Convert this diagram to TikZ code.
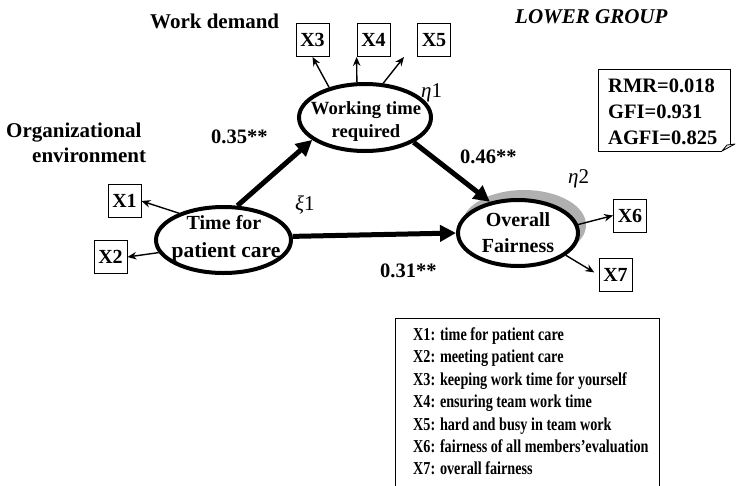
\documentclass[tikz,border=0pt]{standalone}
\usepackage{fontspec}
\setmainfont{Liberation Serif}
\newfontfamily\legendfont{Liberation Serif}[FakeStretch=0.78]
\usetikzlibrary{shapes.geometric,arrows.meta,calc}

\begin{document}
\begin{tikzpicture}[x=1pt,y=-1pt,
  txt/.style={inner sep=0pt, anchor=base west, font=\fontsize{21}{25}\selectfont\bfseries},
  coef/.style={inner sep=0pt, anchor=base west, font=\fontsize{20.5}{24}\selectfont\bfseries},
  intxt/.style={inner sep=0pt, anchor=base, font=\fontsize{20}{24}\selectfont\bfseries},
  greek/.style={inner sep=0pt, anchor=base west, font=\fontsize{21}{24}\selectfont},
  latent/.style={ellipse, draw, line width=4pt, fill=white, inner sep=0pt},
  obs/.style={rectangle, draw, line width=0.8pt, fill=white, minimum width=33pt,
    minimum height=33pt, inner sep=0pt, font=\fontsize{20}{24}\selectfont\bfseries},
  load/.style={line width=1.4pt, -{Stealth[length=9pt,width=7.5pt]}},
  causal/.style={line width=5pt, -{Triangle[length=16pt,width=16pt]}},
  legtxt/.style={inner sep=0pt, anchor=base west, font=\legendfont\fontsize{18.2}{21}\selectfont\bfseries},
]
\useasboundingbox (0,0) rectangle (736,485);

% headings
\node[txt] (hwork) at (150,28) {Work demand};
\node[txt, font=\fontsize{21}{25}\selectfont\bfseries\itshape] (hgroup) at (515,23) {LOWER GROUP};
\node[txt] (horg1) at (6,137) {Organizational};
\node[txt] (horg2) at (32,162) {environment};

% latent variables
\node[ellipse, fill=gray!62, minimum width=124pt, minimum height=70pt, inner sep=0pt] (shade) at (524,225) {};
\node[latent, minimum width=132pt, minimum height=67pt] (work) at (365,117.5) {};
\node[latent, minimum width=135pt, minimum height=66pt] (time) at (223.5,240) {};
\node[latent, minimum width=120pt, minimum height=66pt] (fair) at (518,233) {};

\node[intxt, font=\fontsize{18.6}{22}\selectfont\bfseries] (workA) at (366,114) {Working time};
\node[intxt, font=\fontsize{18.6}{22}\selectfont\bfseries] (workB) at (366,137) {required};
\node[intxt] (timeA) at (224,229) {Time for};
\node[intxt, font=\fontsize{21.5}{25}\selectfont\bfseries] (timeB) at (226,257) {patient care};
\node[intxt] (fairA) at (518,226) {Overall};
\node[intxt] (fairB) at (518,252) {Fairness};

\node[greek] (eta1) at (421,97) {\textit{η}1};
\node[greek] (xi1) at (295,210) {\textit{ξ}1};
\node[greek] (eta2) at (568,183) {\textit{η}2};

% observed indicators
\node[obs] (x3) at (312.5,40) {X3};
\node[obs] (x4) at (373.5,40) {X4};
\node[obs] (x5) at (434,40) {X5};
\node[obs] (x1) at (124.5,201) {X1};
\node[obs] (x2) at (110.5,257) {X2};
\node[obs] (x6) at (630,215.5) {X6};
\node[obs] (x7) at (615.5,275) {X7};

\coordinate (x5tip) at (404,57);

% loadings
\draw[load] (work.140) -- (x3.south);
\draw[load] (work.103) -- (x4.south west);
\draw[load] (work.62) -- (x5tip);
\draw[load] (time.149) -- (x1.east);
\draw[load] (time.191) -- (x2.east);
\draw[load] (fair.8) -- (x6.west);
\draw[load, shorten >=5pt] (fair.-25) -- (x7.west);

% structural paths
\draw[causal] (time.68) -- (work.203);
\draw[causal] (work.-27) -- (fair.132);
\draw[causal] (time.3) -- (fair.west);

\node[coef] (c1) at (211,143) {0.35**};
\node[coef] (c2) at (460,163) {0.46**};
\node[coef] (c3) at (380,277) {0.31**};

% fit indices
\draw[line width=0.8pt] (598,151) -- (598,69) -- (730,69) -- (730,144);
\draw[line width=0.8pt] (598,151) -- (722,151);
\draw[line width=0.8pt, fill=gray!15, line join=round] (722,151) -- (727,145) -- (735,144) -- cycle;
\node[coef] (rmr) at (608,92) {RMR=0.018};
\node[coef] (gfi) at (608,118) {GFI=0.931};
\node[coef] (agfi) at (608,144) {AGFI=0.825};

% legend
\draw[line width=0.8pt] (395,490) -- (395,318) -- (659,318) -- (659,490);
\foreach \k/\y/\s in {1/340/{X1: time for patient care},
                      2/362.5/{X2: meeting patient care},
                      3/385/{X3: keeping work time for yourself},
                      4/407.5/{X4: ensuring team work time},
                      5/430/{X5: hard and busy in team work},
                      6/452/{X6: fairness of all members’evaluation},
                      7/474/{X7: overall fairness}}
  \node[legtxt] (leg\k) at (413,\y) {\s};
\end{tikzpicture}
\end{document}
